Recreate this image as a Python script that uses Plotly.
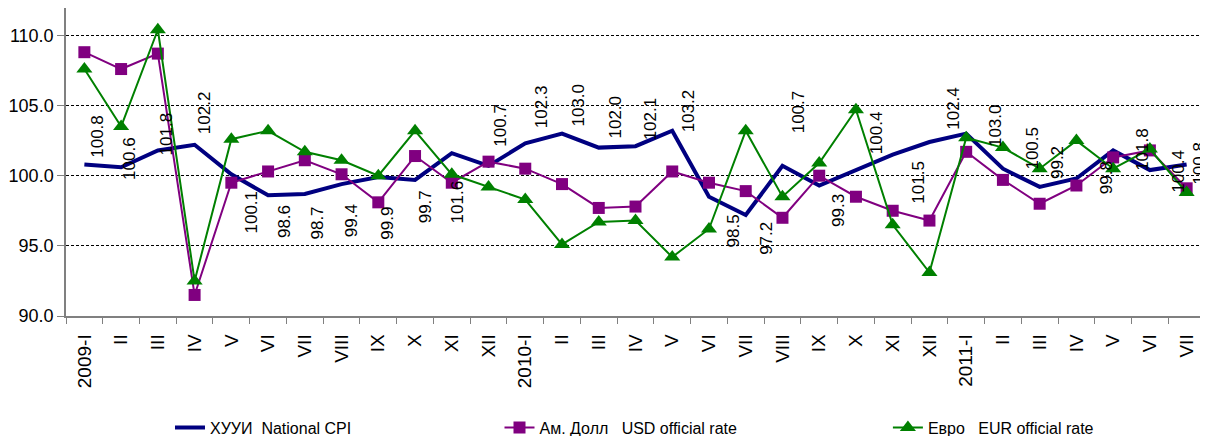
import plotly.graph_objects as go

categories = ["2009-I", "II", "III", "IV", "V", "VI", "VII", "VIII", "IX", "X", "XI", "XII",
              "2010-I", "II ", "III ", "IV ", "V ", "VI ", "VII ", "VIII ", "IX ", "X ", "XI ", "XII ",
              "2011-I", "II  ", "III  ", "IV  ", "V  ", "VI  ", "VII  "]
tick_labels = ["2009-I", "II", "III", "IV", "V", "VI", "VII", "VIII", "IX", "X", "XI", "XII",
               "2010-I", "II", "III", "IV", "V", "VI", "VII", "VIII", "IX", "X", "XI", "XII",
               "2011-I", "II", "III", "IV", "V", "VI", "VII"]

cpi = [100.8, 100.6, 101.8, 102.2, 100.1, 98.6, 98.7, 99.4, 99.9, 99.7, 101.6, 100.7,
       102.3, 103.0, 102.0, 102.1, 103.2, 98.5, 97.2, 100.7, 99.3, 100.4, 101.5, 102.4,
       103.0, 100.5, 99.2, 99.8, 101.8, 100.4, 100.8]
usd = [108.8, 107.6, 108.7, 91.5, 99.5, 100.3, 101.1, 100.1, 98.1, 101.4, 99.5, 101.0,
       100.5, 99.4, 97.7, 97.8, 100.3, 99.5, 98.9, 97.0, 100.0, 98.5, 97.5, 96.8,
       101.7, 99.7, 98.0, 99.3, 101.3, 101.8, 99.1]
eur = [107.6, 103.5, 110.4, 92.5, 102.6, 103.2, 101.7, 101.1, 100.0, 103.2, 100.1, 99.2,
       98.3, 95.1, 96.7, 96.8, 94.2, 96.2, 103.2, 98.5, 100.9, 104.7, 96.5, 93.1,
       102.7, 102.0, 100.5, 102.5, 100.5, 101.9, 98.8]

series_names = ["ХУУИ  National CPI", "Ам. Долл   USD official rate", "Евро   EUR official rate"]
y_ticks = [90.0, 95.0, 100.0, 105.0, 110.0]

# label placement (centre of each rotated CPI label, in data units) and horizontal shift in px
label_y = [102.8, 101.2, 103.0, 104.5, 97.4, 96.7, 96.65, 96.8, 96.6, 97.75, 98.15, 103.6,
           104.9, 105.0, 104.2, 104.05, 104.6, 96.1, 95.55, 104.55, 97.5, 103.1, 99.55, 104.8,
           103.55, 102.0, 100.95, 99.85, 101.85, 100.35, 100.9]
label_dx = [13, 9, 9, 10, 20, 17, 13, 10, 9, 10, 6, 12,
            17, 16, 17, 15, 16, 24, 20, 16, 20, 20, 25, 24,
            30, 30, 18, 30, 30, 29, 12]

FONT = "Liberation Sans, Arial, sans-serif"

fig = go.Figure()
fig.add_trace(go.Scatter(x=categories, y=cpi, mode="lines", name=series_names[0],
                         line=dict(color="#000080", width=4), legend="legend", showlegend=True))
fig.add_trace(go.Scatter(x=categories, y=usd, mode="lines+markers", name=series_names[1],
                         line=dict(color="#800080", width=2),
                         marker=dict(symbol="square", size=12, color="#800080"),
                         legend="legend2", showlegend=True))
fig.add_trace(go.Scatter(x=categories, y=eur, mode="lines+markers", name=series_names[2],
                         line=dict(color="#008000", width=2),
                         marker=dict(symbol="triangle-up", size=14, color="#008000"),
                         legend="legend3", showlegend=True))

for c, v, ly, dx in zip(categories, cpi, label_y, label_dx):
    fig.add_annotation(x=c, y=ly, text=f"{v:.1f}", showarrow=False, textangle=-90,
                       xshift=dx, font=dict(family=FONT, size=17, color="#000000"))

legend_common = dict(orientation="h", yanchor="middle", y=-0.362, xanchor="left",
                     bgcolor="rgba(0,0,0,0)", font=dict(family=FONT, size=16, color="#000000"))

# the page body adds an 8px offset, so the figure is 1200x428
fig.update_layout(
    width=1200, height=428,
    showlegend=True,
    margin=dict(l=58, r=3, t=0, b=119.5, autoexpand=False),
    paper_bgcolor="white", plot_bgcolor="white",
    font=dict(family=FONT, size=18, color="#000000"),
    legend=dict(x=0.0913, **legend_common),
    legend2=dict(x=0.3806, **legend_common),
    legend3=dict(x=0.7216, **legend_common),
    xaxis=dict(type="category", categoryorder="array", categoryarray=categories,
               tickvals=categories, ticktext=tick_labels, tickangle=-90,
               tickson="boundaries", ticks="outside", ticklen=6, tickcolor="#808080",
               ticklabelstandoff=9,
               showline=True, linecolor="#808080", linewidth=1.5,
               showgrid=False, range=[-0.5, 30.5],
               tickfont=dict(family=FONT, size=19)),
    yaxis=dict(range=[90, 111.95], tickvals=y_ticks, ticktext=[f"{t:.1f}" for t in y_ticks],
               ticks="outside", ticklen=7, tickcolor="#808080",
               showline=True, linecolor="#808080", linewidth=1.5,
               showgrid=True, gridcolor="#000000", gridwidth=1, griddash="3px,2px",
               zeroline=False, tickfont=dict(family=FONT, size=18)),
)

fig.write_html("out.html")
